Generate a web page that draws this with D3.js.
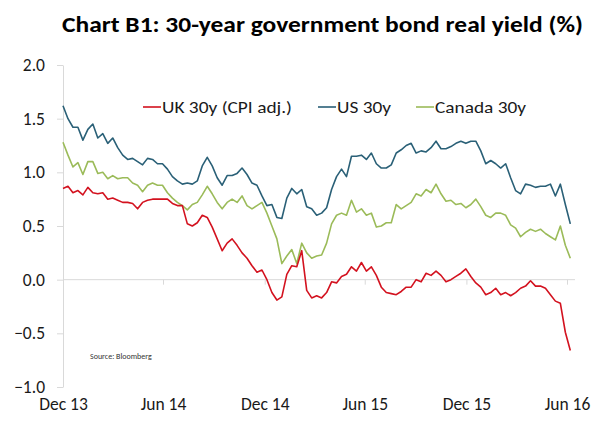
<!DOCTYPE html>
<html>
<head>
<meta charset="utf-8">
<script src="https://cdn.jsdelivr.net/npm/d3@7"></script>
<style>
  body { margin: 0; background: #fff; }
  svg { display: block; font-family: Carlito, Lato, "Open Sans", sans-serif; }
</style>
</head>
<body>
<svg id="chart" width="597" height="421"></svg>
<script>
// observations every 9 days, from end-Dec 2013 to early Jul 2016
const dates = d3.timeDay.range(new Date(2013, 11, 31), new Date(2016, 6, 7), 9);

const ukValues = [0.85, 0.87, 0.81, 0.83, 0.79, 0.86, 0.81, 0.80, 0.81, 0.75,
  0.76, 0.74, 0.72, 0.72, 0.71, 0.66, 0.72, 0.74, 0.75, 0.75,
  0.75, 0.75, 0.71, 0.69, 0.69, 0.52, 0.50, 0.53, 0.60, 0.58,
  0.49, 0.38, 0.27, 0.34, 0.38, 0.32, 0.25, 0.20, 0.13, 0.07,
  0.09, 0.00, -0.12, -0.19, -0.16, 0.05, 0.13, 0.12, 0.27, -0.10,
  -0.17, -0.15, -0.17, -0.12, -0.02, -0.03, 0.03, 0.05, 0.12, 0.08,
  0.16, 0.08, 0.12, 0.04, -0.07, -0.12, -0.13, -0.14, -0.11, -0.07,
  -0.07, 0.00, -0.02, 0.06, 0.04, 0.08, 0.04, -0.02, 0.00, 0.03,
  0.06, 0.10, 0.03, -0.03, -0.07, -0.14, -0.12, -0.08, -0.14, -0.12,
  -0.15, -0.12, -0.08, -0.06, -0.01, -0.06, -0.06, -0.08, -0.14, -0.20,
  -0.22, -0.49, -0.66];

const usValues = [1.62, 1.50, 1.42, 1.42, 1.30, 1.40, 1.45, 1.32, 1.36, 1.27,
  1.32, 1.23, 1.16, 1.12, 1.13, 1.10, 1.07, 1.13, 1.12, 1.08,
  1.08, 1.03, 0.96, 0.92, 0.89, 0.90, 0.89, 0.92, 1.06, 1.14,
  1.06, 0.95, 0.88, 0.97, 0.97, 0.99, 1.04, 0.98, 0.90, 0.88,
  0.78, 0.69, 0.70, 0.58, 0.57, 0.76, 0.85, 0.80, 0.84, 0.68,
  0.66, 0.60, 0.62, 0.67, 0.84, 0.96, 1.03, 0.96, 1.15, 1.15,
  1.16, 1.12, 1.18, 1.08, 1.04, 1.04, 1.07, 1.18, 1.21, 1.25,
  1.27, 1.18, 1.20, 1.19, 1.23, 1.29, 1.22, 1.22, 1.24, 1.27,
  1.29, 1.27, 1.29, 1.29, 1.20, 1.08, 1.11, 1.08, 1.04, 1.08,
  0.95, 0.83, 0.80, 0.89, 0.88, 0.86, 0.87, 0.87, 0.89, 0.78,
  0.89, 0.70, 0.52];

const canadaValues = [1.28, 1.16, 1.05, 1.09, 0.98, 1.10, 1.10, 0.99, 1.00, 0.94,
  0.97, 0.94, 0.95, 0.95, 0.90, 0.88, 0.82, 0.88, 0.90, 0.88,
  0.88, 0.81, 0.76, 0.72, 0.69, 0.65, 0.70, 0.72, 0.79, 0.87,
  0.80, 0.72, 0.66, 0.72, 0.75, 0.72, 0.78, 0.69, 0.66, 0.69,
  0.72, 0.62, 0.50, 0.38, 0.15, 0.22, 0.28, 0.15, 0.34, 0.25,
  0.20, 0.22, 0.23, 0.34, 0.52, 0.60, 0.62, 0.60, 0.74, 0.63,
  0.66, 0.60, 0.62, 0.49, 0.50, 0.53, 0.53, 0.70, 0.66, 0.69,
  0.72, 0.80, 0.78, 0.84, 0.81, 0.89, 0.80, 0.73, 0.74, 0.70,
  0.71, 0.67, 0.70, 0.75, 0.68, 0.60, 0.58, 0.62, 0.62, 0.60,
  0.51, 0.48, 0.40, 0.44, 0.47, 0.45, 0.47, 0.43, 0.40, 0.37,
  0.50, 0.32, 0.20];

const seriesNames = ["UK 30y (CPI adj.)", "US 30y", "Canada 30y"];
const seriesColors = ["#d3121f", "#2a6077", "#9bbb59"];
const yTicks = [-1, -0.5, 0, 0.5, 1, 1.5, 2];
const xTickDates = [new Date(2013, 11, 31), new Date(2014, 5, 30), new Date(2014, 11, 31),
  new Date(2015, 5, 30), new Date(2015, 11, 31), new Date(2016, 5, 30)];
const xTickLabels = ["Dec 13", "Jun 14", "Dec 14", "Jun 15", "Dec 15", "Jun 16"];

const svg = d3.select("#chart");
const margin = { left: 63, top: 65, right: 30, bottom: 34 };

const x = d3.scaleTime()
    .domain([xTickDates[0], xTickDates[xTickDates.length - 1]])
    .range([margin.left, 567]);
const y = d3.scaleLinear().domain([-1, 2]).range([387, margin.top]);

// title, stretched to its slot like the original
svg.append("text")
    .attr("x", 62).attr("y", 32)
    .attr("font-weight", "bold")
    .attr("font-size", 22.5)
    .attr("fill", "#000")
    .attr("textLength", 521)
    .attr("lengthAdjust", "spacingAndGlyphs")
    .text("Chart B1: 30-year government bond real yield (%)");

// y axis
const yAxis = svg.append("g")
    .attr("transform", `translate(${margin.left},0)`)
    .call(d3.axisLeft(y).tickValues(yTicks).tickFormat(d3.format(".1f")).tickSize(6).tickSizeOuter(0).tickPadding(12));
yAxis.select(".domain").attr("stroke", "#d9d9d9");
yAxis.selectAll(".tick line").attr("stroke", "#d9d9d9");
yAxis.selectAll(".tick text").attr("font-size", 17.5).attr("fill", "#1a1a1a")
    .attr("font-family", "Carlito, Lato, sans-serif");

// zero line with date ticks
const y0 = y(0);
const xAxis = svg.append("g")
    .attr("transform", `translate(0,${y0})`)
    .call(d3.axisBottom(x).tickValues(xTickDates).tickFormat((d, i) => xTickLabels[i])
        .tickSize(5).tickSizeOuter(0).tickPadding(398 - y0 - 5));
xAxis.select(".domain").attr("d", `M${margin.left},0H575`).attr("stroke", "#d9d9d9");
xAxis.selectAll(".tick line").attr("stroke", "#d9d9d9");
xAxis.selectAll(".tick text").attr("font-size", 17.5).attr("fill", "#1a1a1a")
    .attr("font-family", "Carlito, Lato, sans-serif");

// lines
const allValues = [ukValues, usValues, canadaValues];
const line = d3.line()
    .x((d, i) => x(dates[i]))
    .y(d => y(d));

// draw Canada first, then US, UK on top
[2, 1, 0].forEach(k => {
    svg.append("path")
        .datum(allValues[k])
        .attr("fill", "none")
        .attr("stroke", seriesColors[k])
        .attr("stroke-width", 1.6)
        .attr("stroke-linejoin", "round")
        .attr("d", line);
});

// legend
const legendX = [143, 318, 416];
const legendW = [130, 54, 91];
const legend = svg.append("g").attr("font-size", 17);
seriesNames.forEach((name, k) => {
    legend.append("line")
        .attr("x1", legendX[k]).attr("x2", legendX[k] + 18)
        .attr("y1", 107).attr("y2", 107)
        .attr("stroke", seriesColors[k]).attr("stroke-width", 1.6);
    legend.append("text")
        .attr("x", legendX[k] + 19).attr("y", 113)
        .attr("fill", "#1a1a1a")
        .attr("textLength", legendW[k])
        .attr("lengthAdjust", "spacingAndGlyphs")
        .text(name);
});

svg.append("text")
    .attr("x", 90).attr("y", 359)
    .attr("font-size", 8)
    .attr("fill", "#333")
    .text("Source: Bloomberg");
</script>
</body>
</html>
